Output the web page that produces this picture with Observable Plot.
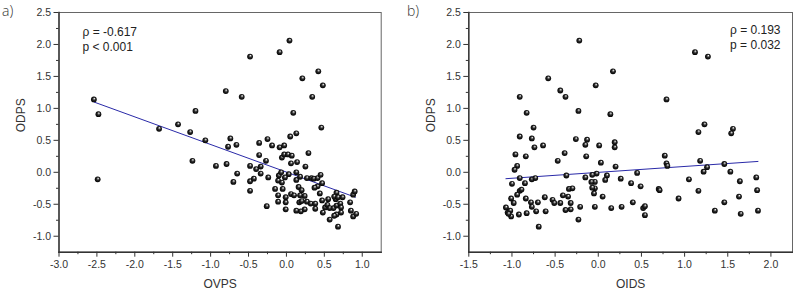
<!DOCTYPE html>
<html>
<head>
<meta charset="utf-8">
<script src="https://cdn.jsdelivr.net/npm/d3@7"></script>
<script src="https://cdn.jsdelivr.net/npm/@observablehq/plot@0.6"></script>
<style>
  html, body { margin: 0; padding: 0; background: #fff; }
  #wrap { position: relative; width: 793px; height: 291px; overflow: hidden; font-family: "Liberation Sans", Arial, sans-serif; }
  .panel { position: absolute; top: 0; }
  .tag { position: absolute; font-family: "Open Sans", sans-serif; font-weight: 300; font-size: 14px; color: #333; line-height: 1; }
</style>
</head>
<body>
<div id="wrap"></div>
<script>
// ---------- data ----------
const aX = [-2.54,-2.48,-2.49,-1.68,-1.43,-1.27,-1.20,-1.24,-1.07,-0.80,-0.59,-0.74,-0.77,-0.66,-0.93,-0.79,-0.65,-0.70,-0.48,-0.40,-0.48,-0.43,-0.48,-0.36,-0.36,
  0.04,-0.09,-0.48,0.42,0.21,0.48,0.34,0.09,0.46,-0.25,-0.19,-0.09,-0.03,0.05,0.13,-0.34,-0.34,-0.27,-0.24,-0.26,-0.15,-0.11,-0.10,-0.07,-0.06,-0.03,0.02,0.07,0.06,0.14,
  0.03,0.13,-0.02,-0.06,-0.05,-0.11,-0.11,-0.01,-0.01,-0.01,0.06,0.10,0.13,0.16,0.20,0.18,0.24,0.17,0.20,0.27,0.32,0.13,0.19,0.24,0.29,0.25,0.27,0.33,0.36,0.41,
  0.45,0.47,0.41,0.37,0.38,0.38,0.47,0.55,0.65,0.66,0.63,0.68,0.51,0.54,0.57,0.62,0.66,0.71,0.72,0.48,0.66,0.72,0.57,0.63,0.68,0.84,0.85,0.88,0.92,0.88,0.90,0.74,0.44,0.18];
const aY = [1.14,0.91,-0.11,0.68,0.75,0.63,0.96,0.18,0.50,1.27,1.18,0.53,0.40,0.43,0.10,0.13,-0.02,-0.15,0.10,0.05,-0.14,-0.10,-0.29,0.46,0.27,
  2.06,1.88,1.81,1.58,1.47,1.36,1.18,0.93,0.70,0.52,0.42,0.39,0.42,0.56,0.61,0.09,-0.02,0.18,-0.08,-0.53,-0.26,-0.13,-0.05,0.00,0.23,0.28,0.28,0.26,0.14,0.16,
  -0.03,0.00,-0.08,-0.16,-0.26,-0.36,-0.46,-0.39,-0.47,-0.58,-0.34,-0.36,-0.12,-0.23,-0.28,-0.36,-0.37,-0.47,-0.45,-0.46,-0.49,-0.60,-0.61,-0.58,0.30,0.09,-0.09,-0.09,-0.10,-0.09,
  -0.04,-0.17,-0.22,-0.24,-0.49,-0.57,-0.44,-0.42,-0.42,-0.32,-0.38,-0.39,-0.55,-0.51,-0.56,-0.56,-0.52,-0.49,-0.55,-0.63,-0.66,-0.63,-0.74,-0.68,-0.85,-0.47,-0.60,-0.69,-0.65,-0.35,-0.30,-0.39,-0.33,-0.07];
const bX = [-0.91,-0.83,-0.75,-0.91,-0.77,-0.74,-0.64,-0.58,-0.44,-0.38,-0.22,-0.23,-0.26,-0.13,-0.15,-0.03,0.01,0.17,0.79,0.14,1.12,1.27,1.23,1.16,1.56,1.54,0.19,0.19,
  0.03,-0.02,0.20,0.10,0.08,0.26,-0.04,-0.04,-0.05,0.05,-0.04,0.15,0.27,0.38,0.45,0.49,0.40,0.52,0.54,0.54,0.77,0.79,0.80,0.70,0.71,0.93,1.05,1.16,1.18,1.22,1.26,1.46,1.53,1.35,1.46,1.64,1.63,1.65,1.83,1.84,1.85,
  -0.96,-0.84,-0.39,-0.47,-0.94,-0.97,-0.91,-1.00,-0.85,-0.77,-0.73,-0.37,-0.15,-0.14,-0.07,-0.08,-0.07,-0.34,-0.30,-0.41,-0.35,-0.32,-0.53,-0.51,-0.44,-0.62,-0.70,-0.78,-0.77,-0.84,-1.01,-0.98,-0.91,-0.89,-0.94,
  -1.07,-1.05,-1.02,-1.01,-1.04,-0.92,-0.83,-0.72,-0.61,-0.69,-0.38,-0.32,-0.21,-0.23];
const bY = [1.18,0.93,0.70,0.56,0.53,0.39,0.42,1.47,1.28,1.18,2.06,0.96,0.52,0.51,0.43,1.36,0.42,1.58,1.14,0.91,1.88,1.81,0.75,0.63,0.68,0.61,0.47,0.39,
  0.15,-0.02,0.09,-0.05,-0.12,-0.10,-0.15,-0.25,-0.33,-0.38,-0.54,-0.56,-0.54,-0.17,-0.01,-0.22,-0.47,-0.56,-0.53,-0.67,0.26,0.14,0.10,-0.26,-0.28,-0.41,-0.11,-0.29,0.18,0.01,0.08,0.13,0.01,-0.60,-0.47,-0.14,-0.38,-0.65,-0.08,-0.28,-0.60,
  0.28,0.25,0.30,0.18,0.10,0.04,-0.09,-0.18,-0.17,-0.11,-0.09,-0.05,-0.08,0.25,-0.04,-0.15,-0.24,-0.26,-0.25,-0.36,-0.38,-0.48,-0.43,-0.48,-0.48,-0.39,-0.47,-0.47,-0.54,-0.41,-0.41,-0.48,-0.29,-0.27,-0.35,
  -0.55,-0.63,-0.60,-0.69,-0.65,-0.66,-0.64,-0.61,-0.61,-0.85,-0.59,-0.58,-0.54,-0.74];
// fitted lines (end points)
const fitAX = [-2.54, 0.91];
const fitAY = [1.10, -0.39];
const fitBX = [-1.07, 1.85];
const fitBY = [-0.10, 0.17];
// axis ticks
const ticksAX = [-3.0,-2.5,-2.0,-1.5,-1.0,-0.5,0.0,0.5,1.0];
const minorAX = [-2.75,-2.25,-1.75,-1.25,-0.75,-0.25,0.25,0.75];
const ticksBX = [-1.5,-1.0,-0.5,0.0,0.5,1.0,1.5,2.0];
const minorBX = [-1.25,-0.75,-0.25,0.25,0.75,1.25,1.75];
const ticksY = [-1.0,-0.5,0.0,0.5,1.0,1.5,2.0,2.5];
const minorY = [-0.75,-0.25,0.25,0.75,1.25,1.75,2.25];
const statsA = ["ρ = -0.617", "p < 0.001"];
const statsB = ["ρ = 0.193", "p = 0.032"];
const panelTags = ["a)", "b)"];
const xLabels = ["OVPS", "OIDS"];
const yLabel = "ODPS";

const ptsA = aX.map((x, i) => ({x, y: aY[i]}));
const ptsB = bX.map((x, i) => ({x, y: bY[i]}));
const fitA = fitAX.map((x, i) => ({x, y: fitAY[i]}));
const fitB = fitBX.map((x, i) => ({x, y: fitBY[i]}));

const fmt = d => d.toFixed(1);
const wrap = document.getElementById("wrap");

function panel({pts, fit, xDomain, ticksX, minorX, stats, statsRight, xLabel, width, marginLeft, marginRight, gradId}) {
  const H = 291;
  const marks = [
    Plot.frame({stroke: "#666", strokeWidth: 1}),
    Plot.axisX(ticksX, {tickSize: 5, tickPadding: 3, tickFormat: fmt, stroke: "#333", fill: "#333", fontSize: 10.5, label: null}),
    Plot.axisX(minorX, {tickSize: 2.5, text: null, stroke: "#333", label: null}),
    Plot.axisY(ticksY, {tickSize: 5, tickPadding: 3, tickFormat: fmt, stroke: "#333", fill: "#333", fontSize: 10.5, label: null}),
    Plot.axisY(minorY, {tickSize: 2.5, text: null, stroke: "#333", label: null}),
    Plot.frame({anchor: "left", stroke: "#333", strokeWidth: 1.4}),
    Plot.frame({anchor: "bottom", stroke: "#333", strokeWidth: 1.4}),
    Plot.line(fit, {x: "x", y: "y", stroke: "#2a2aa8", strokeWidth: 1}),
    Plot.dot(pts, {x: "x", y: "y", r: 2.9, fill: `url(#${gradId})`, stroke: "none"}),
    Plot.text([stats.join("\n")], {
      frameAnchor: statsRight ? "top-right" : "top-left",
      textAnchor: statsRight ? "end" : "start",
      lineAnchor: "top", lineHeight: 1.25,
      dx: statsRight ? -12 : 23.5, dy: statsRight ? 11 : 13,
      fontSize: 12, fill: "#222"
    }),
    Plot.text([xLabel], {frameAnchor: "bottom", lineAnchor: "middle", dy: 31.5, fontSize: 12, fill: "#333"}),
    Plot.text([yLabel], {frameAnchor: "left", rotate: -90, lineAnchor: "middle", dx: -38, fontSize: 12, fill: "#333"})
  ];
  const svg = Plot.plot({
    width, height: H,
    marginLeft, marginRight, marginTop: 12, marginBottom: 39.3,
    x: {domain: xDomain, label: null},
    y: {domain: [-1.25, 2.5], label: null},
    style: {fontFamily: '"Liberation Sans", Arial, sans-serif', fontSize: "10px", background: "transparent", overflow: "visible"},
    marks
  });
  const defs = d3.select(svg).insert("defs", ":first-child");
  const g = defs.append("radialGradient").attr("id", gradId)
    .attr("cx", "0.5").attr("cy", "0.5").attr("r", "0.5")
    .attr("fx", "0.6").attr("fy", "0.3");
  g.append("stop").attr("offset", "0%").attr("stop-color", "#ffffff");
  g.append("stop").attr("offset", "22%").attr("stop-color", "#9a9a9a");
  g.append("stop").attr("offset", "50%").attr("stop-color", "#2a2a2a");
  g.append("stop").attr("offset", "100%").attr("stop-color", "#000000");
  return svg;
}

const svgA = panel({pts: ptsA, fit: fitA, xDomain: [-3, 1.25], ticksX: ticksAX, minorX: minorAX,
  stats: statsA, statsRight: false, xLabel: xLabels[0], width: 390, marginLeft: 58.5, marginRight: 9.3, gradId: "sphA"});
const svgB = panel({pts: ptsB, fit: fitB, xDomain: [-1.5, 2.25], ticksX: ticksBX, minorX: minorBX,
  stats: statsB, statsRight: true, xLabel: xLabels[1], width: 393, marginLeft: 68.3, marginRight: 1, gradId: "sphB"});

const dA = document.createElement("div"); dA.className = "panel"; dA.style.left = "0px"; dA.appendChild(svgA);
const dB = document.createElement("div"); dB.className = "panel"; dB.style.left = "400px"; dB.appendChild(svgB);
wrap.appendChild(dA); wrap.appendChild(dB);

panelTags.forEach((t, i) => {
  const s = document.createElement("div");
  s.className = "tag"; s.textContent = t;
  s.style.left = (i === 0 ? 2 : 407) + "px"; s.style.top = "4px";
  wrap.appendChild(s);
});
</script>
</body>
</html>
